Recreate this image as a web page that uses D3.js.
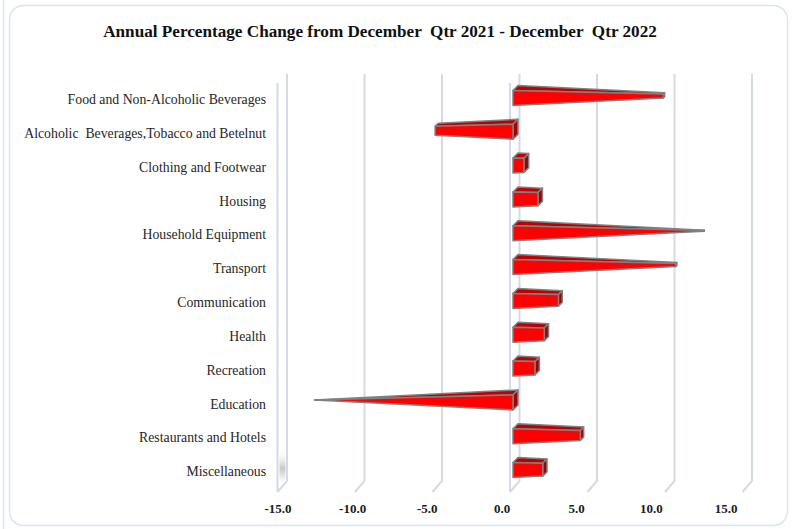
<!DOCTYPE html>
<html>
<head>
<meta charset="utf-8">
<script src="https://cdn.jsdelivr.net/npm/d3@7"></script>
<style>
  body { margin: 0; background: #fff; }
  svg { display: block; }
  text { white-space: pre; }
</style>
</head>
<body>
<script>
// data
var categories = ["Food and Non-Alcoholic Beverages", "Alcoholic  Beverages,Tobacco and Betelnut",
  "Clothing and Footwear", "Housing", "Household Equipment", "Transport", "Communication",
  "Health", "Recreation", "Education", "Restaurants and Hotels", "Miscellaneous"]
var values = [9.6, -5.1, 0.7, 1.6, 12.2, 10.4, 2.9, 2.0, 1.4, -13.0, 4.3, 1.9]
var tickValues = [-15, -10, -5, 0, 5, 10, 15]
var title = "Annual Percentage Change from December  Qtr 2021 - December  Qtr 2022"

var width = 792, height = 529

var svg = d3.select("body").append("svg")
    .attr("width", width)
    .attr("height", height)

// frame
svg.append("line")
    .attr("x1", 3.5).attr("x2", 3.5).attr("y1", 0).attr("y2", height)
    .attr("stroke", "#dbe5f1").attr("stroke-width", 1.5)
svg.append("rect")
    .attr("x", 9.5).attr("y", 5.5)
    .attr("width", 778).attr("height", 520)
    .attr("rx", 14)
    .attr("fill", "#fff")
    .attr("stroke", "#dbe5f1").attr("stroke-width", 1.5)

// scales (back wall, bar plane, tick labels)
var xBack = d3.scaleLinear().domain([-15, 15]).range([287, 752])
var depthX = 9.5, depthY = 11
var xBar = d3.scaleLinear().domain([-15, 15]).range([281, 745])
var xLabel = d3.scaleLinear().domain([-15, 15]).range([278, 726])
var y = d3.scaleBand().domain(categories).range([81, 487]).padding(0)

var wallTop = 74, wallBottom = 481

// gridlines
var grid = svg.append("g")
grid.selectAll("path.gl").data(tickValues).enter()
  .append("path")
    .attr("class", "gl")
    .attr("d", function(d) {
      var x = xBack(d)
      return "M" + x + "," + wallTop + "V" + wallBottom + "L" + (x - depthX) + "," + (wallBottom + depthY)
    })
    .attr("fill", "none")
    .attr("stroke", "#d3dae4")
    .attr("stroke-width", 2)

// side wall shading near the bottom of -15
var grad = svg.append("defs").append("linearGradient")
    .attr("id", "side").attr("x1", 0).attr("x2", 0).attr("y1", 0).attr("y2", 1)
grad.append("stop").attr("offset", 0).attr("stop-color", "#fff").attr("stop-opacity", 0)
grad.append("stop").attr("offset", 0.6).attr("stop-color", "#c8c8c8")
grad.append("stop").attr("offset", 1).attr("stop-color", "#fff")
svg.append("rect")
    .attr("x", xBack(-15) - depthX + 2).attr("y", 448)
    .attr("width", 6).attr("height", 34)
    .attr("fill", "url(#side)")

// front vertical edges at -15 and 0
grid.selectAll("line.front").data([-15, 0]).enter()
  .append("line")
    .attr("class", "front")
    .attr("x1", function(d) { return xBack(d) - depthX })
    .attr("x2", function(d) { return xBack(d) - depthX })
    .attr("y1", wallTop + 9)
    .attr("y2", wallBottom + depthY)
    .attr("stroke", "#d3dae4")
    .attr("stroke-width", 2)

// bars - truncated pyramids
var h0 = 15, d0 = 5
var maxAbs = d3.max(values, function(v) { return Math.abs(v) })
var bars = categories.map(function(c, i) { return { cat: c, v: values[i] } })

function pt(p) { return p[0] + "," + p[1] }
function poly(ps) { return "M" + ps.map(pt).join("L") + "Z" }

function shape(d) {
  var cy = y(d.cat) + y.bandwidth() / 2
  var x0 = xBar(0), x1 = xBar(d.v)
  var k = 1 - Math.abs(d.v) / maxAbs
  var ex = x1 + (1 - k) * d0 / 2, ecy = cy - (1 - k) * d0 / 2
  var eh = h0 * k, ed = d0 * k
  var BFT = [x0, cy - h0 / 2], BFB = [x0, cy + h0 / 2]
  var BBT = [x0 + d0, cy - h0 / 2 - d0], BBB = [x0 + d0, cy + h0 / 2 - d0]
  var EFT = [ex, ecy - eh / 2], EFB = [ex, ecy + eh / 2]
  var EBT = [ex + ed, ecy - eh / 2 - ed], EBB = [ex + ed, ecy + eh / 2 - ed]
  return {
    top: poly([BFT, BBT, EBT, EFT]),
    cap: d.v >= 0 ? poly([EFT, EBT, EBB, EFB]) : poly([BFT, BBT, BBB, BFB]),
    front: poly([BFT, EFT, EFB, BFB])
  }
}

var bg = svg.selectAll("g.bar").data(bars).enter()
  .append("g").attr("class", "bar")
  .attr("stroke", "#808080")
  .attr("stroke-width", 1.5)
  .attr("stroke-linejoin", "round")

bg.append("path").attr("d", function(d) { return shape(d).top }).attr("fill", "#c00000")
bg.append("path").attr("d", function(d) { return shape(d).cap }).attr("fill", "#a00000")
bg.append("path").attr("d", function(d) { return shape(d).front }).attr("fill", "#ff0000")

// category labels
var labels = svg.append("g")
    .attr("font-family", "'Liberation Serif', 'DejaVu Serif', serif")
    .attr("fill", "#262626")
labels.selectAll("text").data(categories).enter()
  .append("text")
    .attr("x", 266)
    .attr("y", function(d) { return y(d) + y.bandwidth() / 2 + 3 })
    .attr("text-anchor", "end")
    .attr("dominant-baseline", "middle")
    .attr("font-size", 13)
    .text(function(d) { return d })

// fit label size so the longest label spans like the original
var longest = labels.selectAll("text").filter(function(d, i) { return i == 1 }).node()
var fs = 13 * 242 / longest.getComputedTextLength()
labels.selectAll("text").attr("font-size", fs)

// tick labels
svg.append("g").selectAll("text").data(tickValues).enter()
  .append("text")
    .attr("x", function(d) { return xLabel(d) })
    .attr("y", 510)
    .attr("text-anchor", "middle")
    .attr("dominant-baseline", "middle")
    .attr("font-family", "'Liberation Serif', serif")
    .attr("font-weight", "bold")
    .attr("font-size", 13)
    .attr("fill", "#1a1a1a")
    .text(function(d) { return d3.format(".1f")(d).replace("\u2212", "-") })

// title
var t = svg.append("text")
    .attr("x", 380)
    .attr("y", 33)
    .attr("text-anchor", "middle")
    .attr("dominant-baseline", "middle")
    .attr("font-family", "'Liberation Serif', serif")
    .attr("font-weight", "bold")
    .attr("font-size", 15)
    .attr("fill", "#111")
    .text(title)
t.attr("font-size", 15 * 554 / t.node().getComputedTextLength())
</script>
</body>
</html>
